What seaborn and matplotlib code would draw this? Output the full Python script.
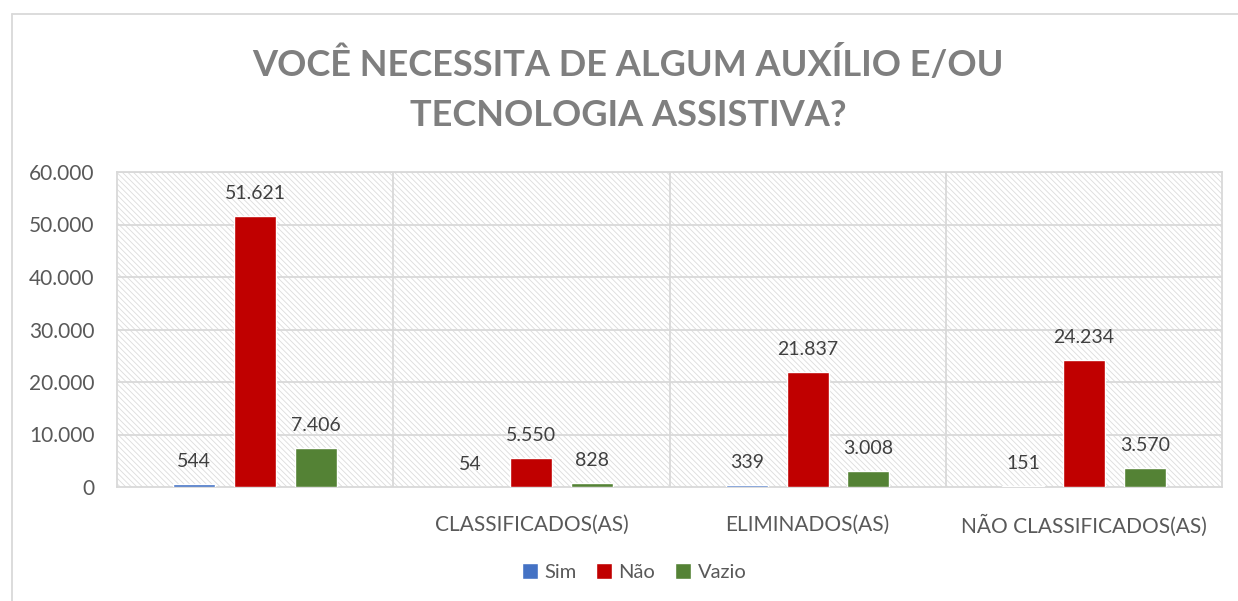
import matplotlib
matplotlib.use("Agg")
import matplotlib.pyplot as plt
import seaborn as sns
import pandas as pd
from matplotlib.patches import Rectangle
from matplotlib.lines import Line2D

categories = ["", "CLASSIFICADOS(AS)", "ELIMINADOS(AS)", "NÃO CLASSIFICADOS(AS)"]
series_names = ["Sim", "Não", "Vazio"]
sim = [544, 54, 339, 151]
nao = [51621, 5550, 21837, 24234]
vazio = [7406, 828, 3008, 3570]
colors = ["#4472C4", "#C00000", "#548235"]
title = "VOCÊ NECESSITA DE ALGUM AUXÍLIO E/OU\nTECNOLOGIA ASSISTIVA?"

rows = []
for i, c in enumerate(categories):
    for s, vals in zip(series_names, [sim, nao, vazio]):
        rows.append({"cat": c if c else " ", "serie": s, "valor": vals[i]})
df = pd.DataFrame(rows)

sns.set_theme(style="white")
plt.rcParams["font.family"] = ["Lato", "DejaVu Sans"]

grid_c = "#D9D9D9"
text_c = "#595959"
plt.rcParams["hatch.color"] = "#DCDCDC"
plt.rcParams["hatch.linewidth"] = 0.6

fig = plt.figure(figsize=(12.38, 6.01), dpi=100)
ax = fig.add_axes([117/1238, 1-487/601, (1222-117)/1238, (487-172)/601])

# hatched background
ax.add_patch(Rectangle((0, 0), 1, 1, transform=ax.transAxes, facecolor="white",
                       edgecolor="#DCDCDC", hatch="\\\\\\\\\\\\", linewidth=0, zorder=0))

sns.barplot(data=df, x="cat", y="valor", hue="serie", palette=colors,
            width=0.66, gap=0.31, ax=ax, saturation=1, legend=True, zorder=3)

ax.set_ylim(0, 60000)
ax.set_xlim(-0.5, len(categories) - 0.5)
ax.set_yticks(range(0, 60001, 10000))
ax.set_yticklabels([f"{v:,}".replace(",", ".") for v in range(0, 60001, 10000)],
                   color=text_c, fontsize=15)
ax.set_xticks(range(len(categories)))
ax.set_xticklabels(categories, color=text_c, fontsize=15)
ax.tick_params(axis="x", length=0, pad=20)
ax.tick_params(axis="y", length=0, pad=16)
ax.set_xlabel("")
ax.set_ylabel("")

for y in range(10000, 60001, 10000):
    ax.axhline(y, color=grid_c, lw=1.3, zorder=1)
for x in [0.5, 1.5, 2.5]:
    ax.axvline(x, color=grid_c, lw=1.3, zorder=1)
for s in ["left", "right", "top", "bottom"]:
    ax.spines[s].set_color(grid_c)
    ax.spines[s].set_linewidth(1.3)

for cont in ax.containers:
    ax.bar_label(cont, labels=[f"{int(v):,}".replace(",", ".") for v in cont.datavalues],
                 padding=10, color="#404040", fontsize=14)

ax.get_legend().remove()
handles = [Rectangle((0, 0), 1, 1, facecolor=c) for c in colors]
fig.legend(handles, series_names, loc="center", bbox_to_anchor=(634/1238, 1-572/601),
           ncol=3, frameon=False, fontsize=14.5, handlelength=0.8, handleheight=0.8,
           handletextpad=0.3, columnspacing=1.0, labelcolor=text_c)

fig.text(628/1238, 1-89/601, title, ha="center", va="center", fontsize=26,
         fontweight="bold", color="#7F7F7F", linespacing=1.6)

# outer chart frame
fig.add_artist(Line2D([12/1238, 1], [1-14/601, 1-14/601], transform=fig.transFigure,
                      color=grid_c, lw=1.3))
fig.add_artist(Line2D([12/1238, 12/1238], [0, 1-14/601], transform=fig.transFigure,
                      color=grid_c, lw=1.3))

fig.savefig("out.png", dpi=100)
